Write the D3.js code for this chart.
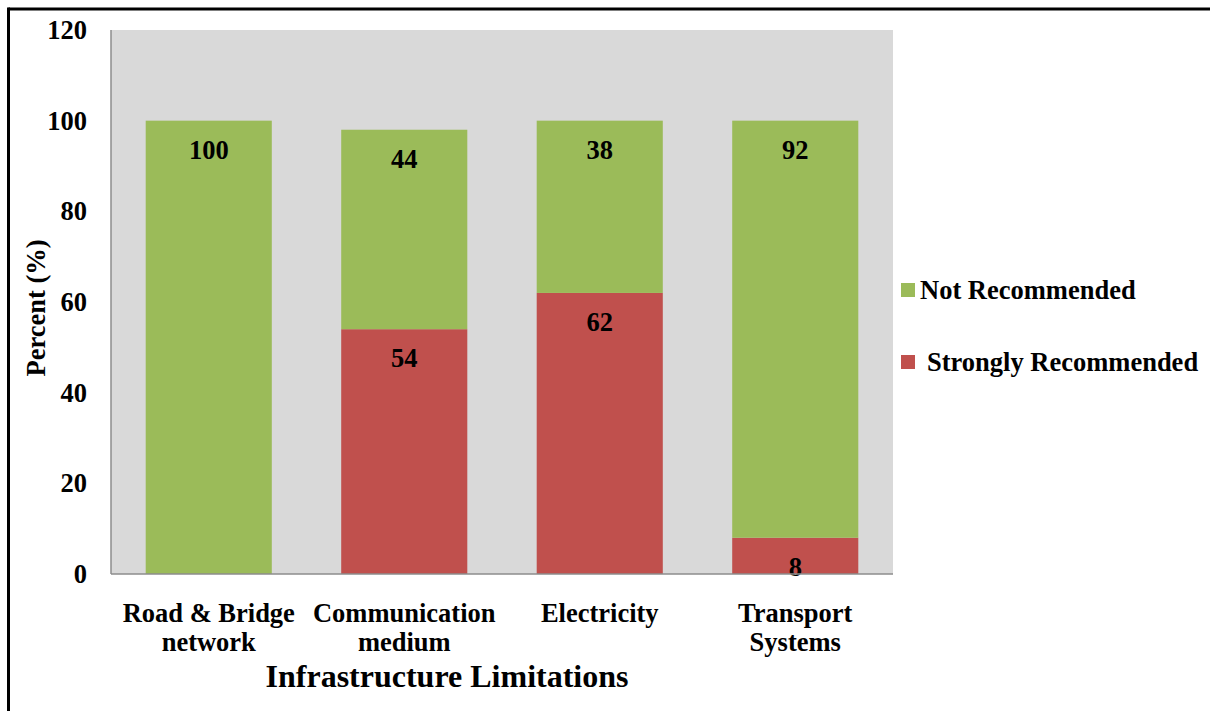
<!DOCTYPE html>
<html>
<head>
<meta charset="utf-8">
<script src="https://cdn.jsdelivr.net/npm/d3@7"></script>
<style>
  html, body { margin: 0; padding: 0; background: #fff; }
  svg { display: block; font-family: "Liberation Serif", "Times New Roman", serif; font-weight: bold; }
</style>
</head>
<body>
<svg id="chart" width="1210" height="711"></svg>
<script>
// Survey results on infrastructure limitations
const categories = [["Road & Bridge", "network"], ["Communication", "medium"], ["Electricity"], ["Transport", "Systems"]];
const strongly = [0, 54, 62, 8];
const notRec = [100, 44, 38, 92];
const yTicks = [0, 20, 40, 60, 80, 100, 120];
const seriesNames = ["Not Recommended", "Strongly Recommended"];
const seriesColors = ["#9BBB59", "#C0504D"];

const svg = d3.select("#chart");
const plot = { left: 111, right: 893, top: 30, bottom: 574 };
const fs = 26.5;

const x = d3.scaleBand().domain(d3.range(categories.length))
  .range([plot.left, plot.right]).paddingInner(0.355).paddingOuter(0.1775);
const y = d3.scaleLinear().domain([0, 120]).range([plot.bottom, plot.top]);

// frame lines
svg.append("line").attr("x1", 8.5).attr("x2", 1210).attr("y1", 9).attr("y2", 9)
  .attr("stroke", "#000").attr("stroke-width", 3);
svg.append("line").attr("x1", 8.5).attr("x2", 8.5).attr("y1", 7.5).attr("y2", 711)
  .attr("stroke", "#000").attr("stroke-width", 3);

// plot background
svg.append("rect").attr("x", plot.left).attr("y", plot.top)
  .attr("width", plot.right - plot.left).attr("height", plot.bottom - plot.top)
  .attr("fill", "#D9D9D9");

// stacked bars
const g = svg.append("g");
categories.forEach((c, i) => {
  const s = strongly[i], n = notRec[i];
  if (s > 0) {
    g.append("rect").attr("x", x(i)).attr("width", x.bandwidth())
      .attr("y", y(s)).attr("height", y(0) - y(s)).attr("fill", seriesColors[1]);
  }
  g.append("rect").attr("x", x(i)).attr("width", x.bandwidth())
    .attr("y", y(s + n)).attr("height", y(s) - y(s + n)).attr("fill", seriesColors[0]);
});

// axes lines
svg.append("line").attr("x1", plot.left).attr("x2", plot.right)
  .attr("y1", plot.bottom).attr("y2", plot.bottom).attr("stroke", "#8c8c8c").attr("stroke-width", 1.5);
svg.append("line").attr("x1", plot.left).attr("x2", plot.left)
  .attr("y1", plot.top).attr("y2", plot.bottom).attr("stroke", "#8c8c8c").attr("stroke-width", 1.5);

// value labels
categories.forEach((c, i) => {
  const s = strongly[i], n = notRec[i];
  const cx = x(i) + x.bandwidth() / 2;
  g.append("text").attr("x", cx).attr("y", y(s + n) + 38)
    .attr("text-anchor", "middle").attr("font-size", fs).text(n);
  if (s > 0) {
    g.append("text").attr("x", cx).attr("y", y(s) + 38)
      .attr("text-anchor", "middle").attr("font-size", fs).text(s);
  }
});

// y tick labels
svg.append("g").selectAll("text").data(yTicks).join("text")
  .attr("x", 87).attr("y", d => y(d) + 9)
  .attr("text-anchor", "end").attr("font-size", fs).text(d => d);

// y axis title
svg.append("text").attr("transform", "translate(45,308) rotate(-90)")
  .attr("text-anchor", "middle").attr("font-size", fs).text("Percent (%)");

// category labels
categories.forEach((lines, i) => {
  const cx = x(i) + x.bandwidth() / 2;
  const t = svg.append("text").attr("x", cx).attr("y", 622)
    .attr("text-anchor", "middle").attr("font-size", fs);
  lines.forEach((ln, k) => {
    t.append("tspan").attr("x", cx).attr("dy", k === 0 ? 0 : 29).text(ln);
  });
});

// x axis title
svg.append("text").attr("x", 447).attr("y", 687).attr("text-anchor", "middle")
  .attr("font-size", 32).text("Infrastructure Limitations");

// legend
const legend = [
  { name: seriesNames[0], color: seriesColors[0], y: 290, tx: 920 },
  { name: seriesNames[1], color: seriesColors[1], y: 362, tx: 927 }
];
legend.forEach(l => {
  svg.append("rect").attr("x", 901).attr("y", l.y - 7).attr("width", 14).attr("height", 14).attr("fill", l.color);
  svg.append("text").attr("x", l.tx).attr("y", l.y + 9).attr("font-size", fs).text(l.name);
});
</script>
</body>
</html>
